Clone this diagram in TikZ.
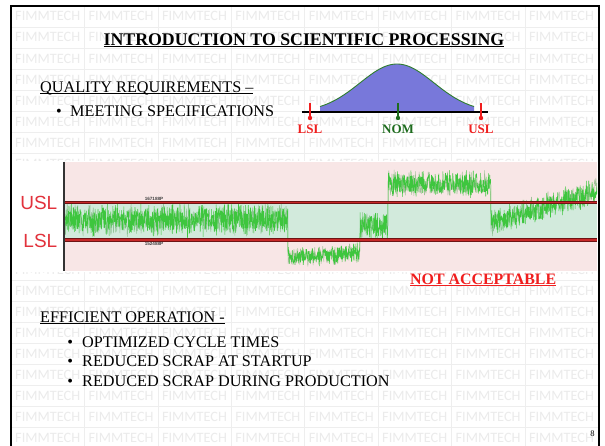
\documentclass[tikz,border=0pt]{standalone}
\usepackage{fontspec}
\setmainfont{Liberation Serif}
\newfontfamily\wmfont{Carlito}
\newfontfamily\chartfont{Liberation Sans}

\definecolor{wmtext}{HTML}{EBEBEB}
\definecolor{wmgrid}{HTML}{EEEEEE}
\definecolor{bellblue}{HTML}{7878DA}
\definecolor{bellgreen}{HTML}{2E7D2E}
\definecolor{specred}{HTML}{F01E1E}
\definecolor{nomgreen}{HTML}{1D6B1D}
\definecolor{chartpink}{HTML}{F8E6E6}
\definecolor{chartmint}{HTML}{D2EADC}
\definecolor{limitdark}{HTML}{6E1414}
\definecolor{limitred}{HTML}{C82828}
\definecolor{labelred}{HTML}{E2323C}
\definecolor{tracegreen}{HTML}{3EC63E}
\definecolor{tracedark}{HTML}{4E9E4E}

% underline drawn as a rule of given depth and thickness
\newcommand{\ulbox}[3]{\leavevmode\setbox0\hbox{#3}\rlap{\rule[-#1]{\wd0}{#2}}\box0}

\tikzset{
  wm/.style={font=\wmfont\fontsize{14.3}{15}\selectfont, text=wmtext, inner sep=0pt},
  wmline/.style={draw=wmgrid, line width=0.6pt},
  bodytext/.style={font=\fontsize{16.2}{18}\selectfont, inner sep=0pt, anchor=base west},
  bullet/.style={font=\fontsize{16.2}{18}\selectfont, inner sep=0pt, anchor=base},
  speclabel/.style={font=\bfseries\fontsize{13}{14}\selectfont, inner sep=0pt},
  charttag/.style={font=\chartfont\fontsize{19}{20}\selectfont, text=labelred, inner sep=0pt, anchor=east},
  tinytag/.style={font=\chartfont\bfseries\fontsize{4.6}{5}\selectfont, text=black!75, inner sep=0pt},
  limitline/.style={line width=3.4pt, draw=limitdark},
  limitcore/.style={line width=1.2pt, draw=limitred},
  tickred/.style={draw=specred, line width=1.6pt},
  tickgreen/.style={draw=nomgreen, line width=1.6pt},
  trace/.style={line width=0.5pt, line join=round},
}

\begin{document}
\begin{tikzpicture}[x=1pt, y=-1pt,
  declare function={
    cen(\t)=(\t<288)?220:((\t<338)?256:((\t<360)?253:((\t<388)?226:((\t<491)?183.5:(223-0.31*(\t-491))))));
    amp(\t)=((\t>288)&&(\t<360))?11:((\t<288)?18:14.5);
  }]
\useasboundingbox (0,0) rectangle (605,445);
\fill[white] (0,0) rectangle (605,445);

% background watermark grid
\foreach \c in {1,...,7} \draw[wmline] ({11+73.4*\c},5.7) -- ({11+73.4*\c},446);
\foreach \r in {1,...,20} \draw[wmline] (11,{5.7+21.1*\r}) -- (598.5,{5.7+21.1*\r});
\foreach \c in {0,...,7}
  \foreach \r in {0,...,20}
    \node[wm] (wm-\c-\r) at ({11+73.4*(\c+0.5)},{5.7+21.1*(\r+0.5)}) {FIMMTECH};

% slide frame
\draw[line width=2pt] (11,446) -- (11,5.7) -- (598.5,5.7) -- (598.5,446);

% title
\node[inner sep=0pt, anchor=base, font=\bfseries\fontsize{17.8}{20}\selectfont] (title) at (304,45)
  {\ulbox{2.2pt}{1.6pt}{INTRODUCTION TO SCIENTIFIC PROCESSING}};

% quality requirements
\node[bodytext] (qual) at (40,92.3) {\ulbox{1.8pt}{0.9pt}{QUALITY REQUIREMENTS –}};
\node[bullet] (b0) at (59,116.8) {•};
\node[bodytext] (meet) at (70,116.8) {MEETING SPECIFICATIONS};

% normal distribution between the specification limits
\fill[bellblue] (320,112) -- plot[domain=320:474, samples=90] (\x,{112-48*exp(-0.5*((\x-397)/37)^2)}) -- (474,112) -- cycle;
\draw[bellgreen, line width=0.9pt] plot[domain=320:474, samples=90] (\x,{112-48*exp(-0.5*((\x-397)/37)^2)});
\coordinate (base-l) at (302,112);
\coordinate (base-r) at (488,112);
\draw[line width=2pt] (base-l) -- (base-r);

\node[speclabel, text=specred] (lsl) at (310,129.5) {LSL};
\node[speclabel, text=nomgreen] (nom) at (398,129.5) {NOM};
\node[speclabel, text=specred] (usl) at (481,129.5) {USL};
\coordinate (lsl-top) at (310,103);
\coordinate (lsl-dot) at (310,118);
\coordinate (nom-top) at (398,103);
\coordinate (nom-dot) at (398,118);
\coordinate (usl-top) at (481,103);
\coordinate (usl-dot) at (481,118);
\draw[tickred] (lsl-top) -- (lsl-dot);
\fill[specred] (lsl-dot) circle (2.2);
\draw[tickgreen] (nom-top) -- (nom-dot);
\fill[nomgreen] (nom-dot) circle (2.2);
\draw[tickred] (usl-top) -- (usl-dot);
\fill[specred] (usl-dot) circle (2.2);

% process chart
\fill[white] (12.2,161) rectangle (597.5,271.5);
\fill[chartpink] (64,161.7) rectangle (597,270.7);
\fill[chartmint] (64,202.5) rectangle (597,240);
\pgfmathsetseed{4711}
\draw[trace, tracedark, opacity=0.5]
  plot[domain=65:597, samples=1000] (\x,{cen(\x)+amp(\x)*(0.65*rand+0.35*rand)});
\draw[trace, tracegreen]
  plot[domain=65:597, samples=2000] (\x,{cen(\x)+amp(\x)*(0.7*rand+0.3*rand)});
\draw[limitline] (64,202.5) -- (597,202.5);
\draw[limitcore] (64,202.5) -- (597,202.5);
\draw[limitline] (64,240) -- (597,240);
\draw[limitcore] (64,240) -- (597,240);
\draw[black!80, line width=1.8pt] (64,161.7) -- (64,270.7);
\node[tinytag] (tag-u) at (154,198.5) {167188P};
\node[tinytag] (tag-l) at (154,244) {152488P};
\node[charttag] (c-usl) at (57.5,202.5) {USL};
\node[charttag] (c-lsl) at (57.5,240.5) {LSL};

\node[inner sep=0pt, anchor=base west, text=specred, font=\bfseries\fontsize{15.9}{18}\selectfont] (notacc) at (410,284)
  {\ulbox{1.8pt}{1.2pt}{NOT ACCEPTABLE}};

% efficient operation
\node[bodytext] (eff) at (40,322) {\ulbox{1.8pt}{0.9pt}{EFFICIENT OPERATION -}};
\node[bullet] (b1) at (70.3,347) {•};
\node[bodytext] (cyc) at (82,347) {OPTIMIZED CYCLE TIMES};
\node[bullet] (b2) at (70.3,366.5) {•};
\node[bodytext] (start) at (82,366.5) {REDUCED SCRAP AT STARTUP};
\node[bullet] (b3) at (70.3,386) {•};
\node[bodytext] (prod) at (82,386) {REDUCED SCRAP DURING PRODUCTION};

% slide number
\node[inner sep=0pt, font=\fontsize{8.5}{9}\selectfont] (page) at (592.5,434) {8};
\end{tikzpicture}
\end{document}
